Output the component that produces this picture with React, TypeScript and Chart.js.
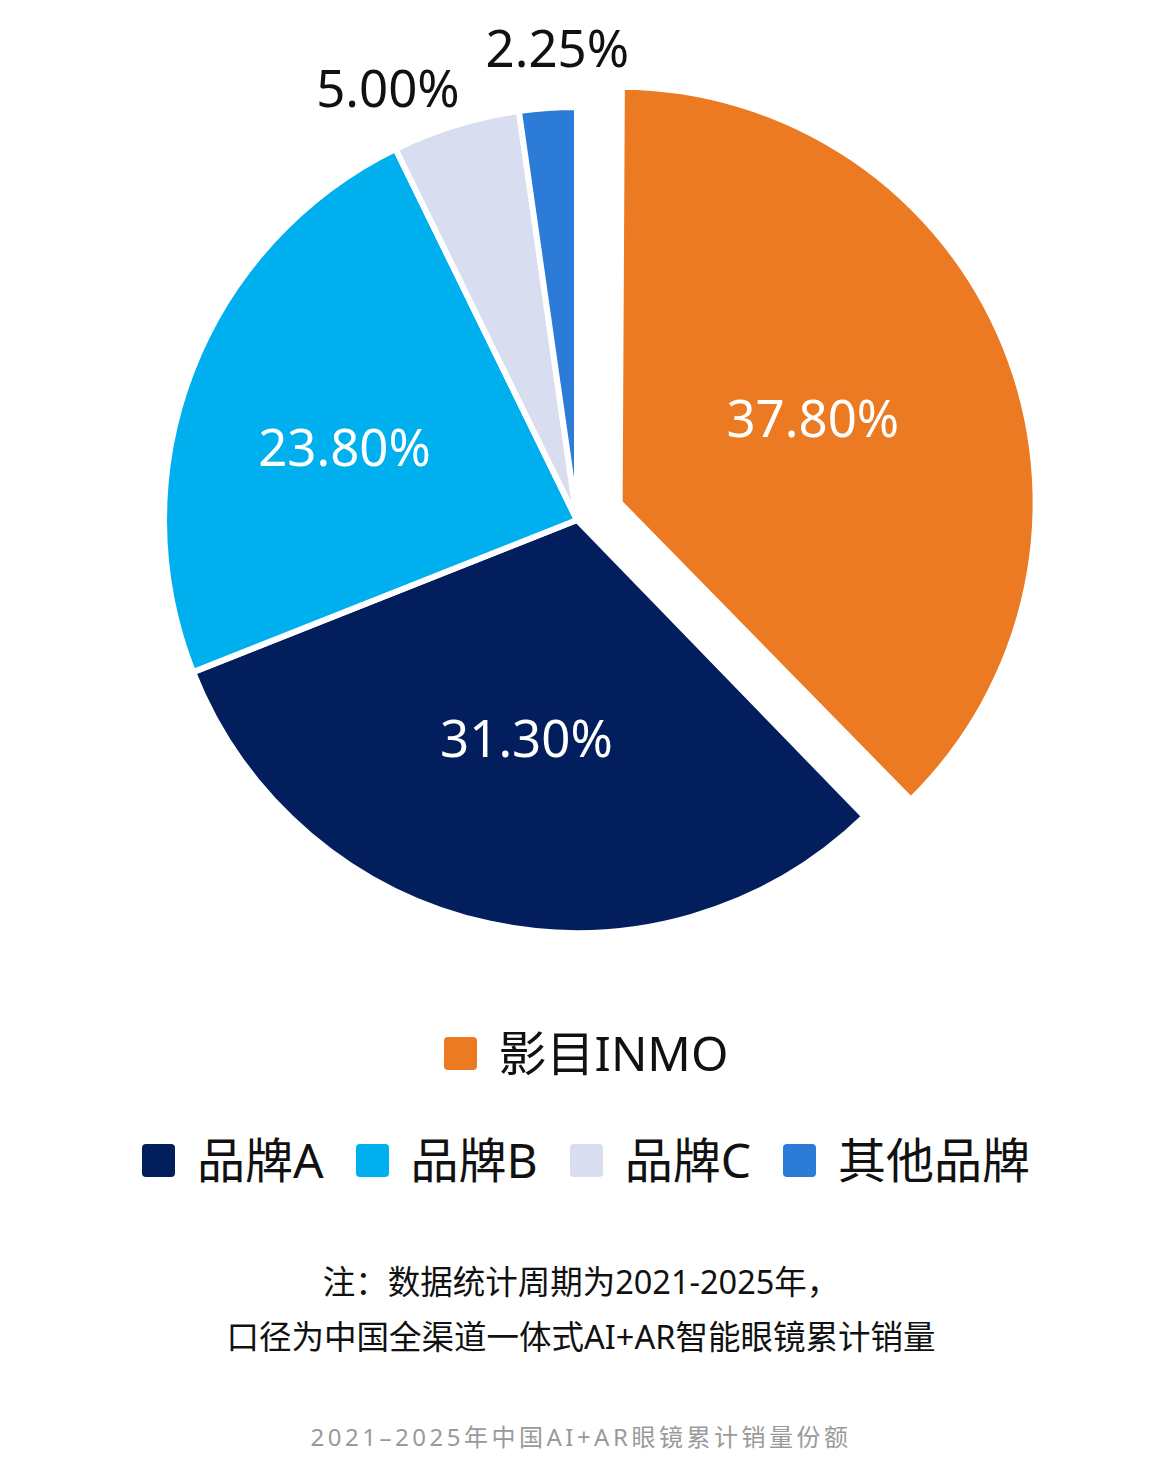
import { useEffect, useRef } from "react"
import { Chart, registerables } from "chart.js"

Chart.register(...registerables)

const brands = ["影目INMO", "品牌A", "品牌B", "品牌C", "其他品牌"]
const shares = [37.8, 31.3, 23.8, 5.0, 2.25]
const colors = ["#EB7A23", "#031E5C", "#00B0EE", "#D8DDEF", "#2C7BD6"]
const labelColors = ["#FFFFFF", "#FFFFFF", "#FFFFFF", "#111111", "#111111"]
const noteLines = ["注：数据统计周期为2021-2025年，", "口径为中国全渠道一体式AI+AR智能眼镜累计销量"]
const title = "2021–2025年中国AI+AR眼镜累计销量份额"

const SLICE_OFFSET = 184 // chart.js moves the arc by a quarter of this

// chart.js also grows an offset arc's radius; pull it back so the slice keeps its size
const radiusFix = {
  id: "radiusFix",
  afterDatasetUpdate(chart: any) {
    const meta = chart.getDatasetMeta(0)
    meta.data.forEach((arc: any) => {
      const off = (arc.options.offset || 0) / 4
      if (!off) return
      const circ = arc.endAngle - arc.startAngle
      const grow = off * (1 - Math.sin(Math.min(Math.PI, circ)))
      arc.outerRadius = arc.outerRadius - grow + 3
    })
  },
}

// label placement: inside labels ~half radius, small slices outside
const labelPlugin = {
  id: "pieLabels",
  afterDatasetsDraw(chart: any) {
    const { ctx } = chart
    const meta = chart.getDatasetMeta(0)
    const nudges = [
      [-12, 3],
      [-4, 6],
      [-26, 11],
      [-53, 15],
      [13, -5],
    ]
    meta.data.forEach((arc: any, i: number) => {
      const { x, y, startAngle, endAngle } = arc.getProps(["x", "y", "startAngle", "endAngle"], true)
      const mid = (startAngle + endAngle) / 2
      const off = (arc.options.offset || 0) / 4
      const outside = shares[i] < 10
      const r = off + (outside ? 1.13 : 0.54) * 410
      const px = x + Math.cos(mid) * r + nudges[i][0]
      const py = y + Math.sin(mid) * r + nudges[i][1]
      ctx.save()
      ctx.font = "51px 'Noto Sans', sans-serif"
      ctx.fillStyle = labelColors[i]
      ctx.textAlign = "center"
      ctx.textBaseline = "middle"
      ctx.fillText(shares[i].toFixed(2) + "%", px, py)
      ctx.restore()
    })
  },
}

function PieChart() {
  const chartRef = useRef<HTMLCanvasElement>(null)
  const chartInstance = useRef<Chart | null>(null)

  useEffect(() => {
    if (!chartRef.current) return
    if (chartInstance.current) chartInstance.current.destroy()
    const ctx = chartRef.current.getContext("2d")
    if (!ctx) return

    chartInstance.current = new Chart(ctx, {
      type: "pie",
      data: {
        labels: brands,
        datasets: [
          {
            data: shares,
            backgroundColor: colors,
            borderColor: "#FFFFFF",
            borderWidth: 6,
            offset: [SLICE_OFFSET, 0, 0, 0, 0],
          },
        ],
      },
      options: {
        responsive: true,
        maintainAspectRatio: false,
        animation: false,
        radius: 413,
        layout: { padding: { left: 0, right: 8, top: 0, bottom: 0 } },
        plugins: {
          legend: { display: false },
          tooltip: { enabled: false },
        },
      },
      plugins: [radiusFix, labelPlugin],
    })

    return () => {
      if (chartInstance.current) {
        chartInstance.current.destroy()
        chartInstance.current = null
      }
    }
  }, [])

  return (
    <div style={{ position: "absolute", left: 0, top: 0, width: 1162, height: 1040 }}>
      <canvas ref={chartRef}></canvas>
    </div>
  )
}

function LegendItem({ i }: { i: number }) {
  return (
    <div style={{ display: "flex", alignItems: "center", margin: "0 16px" }}>
      <span
        style={{
          width: 33,
          height: 33,
          borderRadius: 4,
          background: colors[i],
          marginRight: 22,
          display: "inline-block",
        }}
      />
      <span>{brands[i]}</span>
    </div>
  )
}

export default function App() {
  const rowStyle: React.CSSProperties = {
    position: "absolute",
    left: 0,
    width: 1162,
    display: "flex",
    justifyContent: "center",
    fontSize: 48,
    lineHeight: "60px",
    color: "#111",
  }
  return (
    <div
      style={{
        position: "absolute",
        left: 0,
        top: 0,
        width: 1162,
        height: 1462,
        background: "#FFFFFF",
        fontFamily: "'Noto Sans', 'Noto Sans CJK SC', sans-serif",
      }}
    >
      <PieChart />
      <div style={{ ...rowStyle, top: 1023, paddingLeft: 10, boxSizing: "border-box" }}>
        <LegendItem i={0} />
      </div>
      <div style={{ ...rowStyle, top: 1130, paddingLeft: 10, boxSizing: "border-box" }}>
        {brands.slice(1).map((_, k) => (
          <LegendItem key={k} i={k + 1} />
        ))}
      </div>
      {noteLines.map((line, k) => (
        <div
          key={k}
          style={{
            position: "absolute",
            left: 0,
            width: 1162,
            top: 1262 + k * 55,
            textAlign: "center",
            fontSize: 32.5,
            lineHeight: "40px",
            color: "#111",
          }}
        >
          {line}
        </div>
      ))}
      <div
        style={{
          position: "absolute",
          left: 0,
          width: 1162,
          top: 1422,
          textAlign: "center",
          fontSize: 24,
          lineHeight: "30px",
          letterSpacing: 3.5,
          color: "#9A9A9A",
        }}
      >
        {title}
      </div>
    </div>
  )
}
